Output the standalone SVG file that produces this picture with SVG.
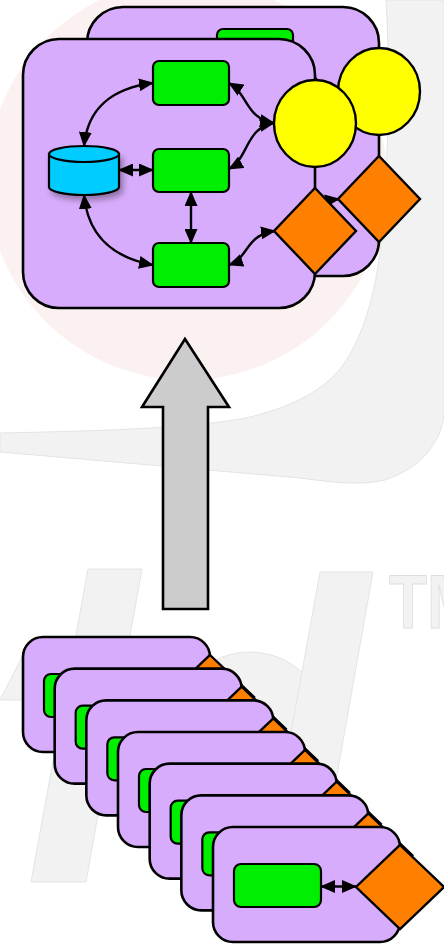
<svg xmlns="http://www.w3.org/2000/svg" width="444" height="948" viewBox="0 0 444 948">
<style>
.card{fill:#d8acfd;stroke:#000;stroke-width:2.6}
.green{fill:#00ee00;stroke:#000;stroke-width:2.2}
.yel{fill:#ffff00;stroke:#000;stroke-width:2.4}
.dia{fill:#ff7f00;stroke:#000;stroke-width:2.4}
.cyl{fill:#00ccff;stroke:#000;stroke-width:2.2}
.edge{fill:none;stroke:#000;stroke-width:2.4;marker-start:url(#ah);marker-end:url(#ah)}
.wm{fill:#f2f2f2;stroke:#e4e4e4;stroke-width:1}
.big{fill:#cccccc;stroke:#000;stroke-width:2.6;stroke-linejoin:miter}
</style>
<defs>
<marker id="ah" viewBox="0 0 15 13" refX="14" refY="6.5" markerWidth="15" markerHeight="13" markerUnits="userSpaceOnUse" orient="auto-start-reverse">
<path d="M0,0 L15,6.5 L0,13 z" fill="#000"/>
</marker>
<filter id="sh" x="-30%" y="-30%" width="170%" height="170%">
<feDropShadow dx="3" dy="4" stdDeviation="3" flood-color="#000" flood-opacity="0.35"/>
</filter>
</defs>
<rect width="444" height="948" fill="#fff"/>
<g id="watermark">
<path class="wm" d="M386,0 L444,0 L444,415 C440,445 420,468 385,480 C360,486 330,482 300,478 L0,452 L0,433 C100,431 200,428 250,417 C300,405 330,385 345,362 C360,340 375,300 380,250 C386,190 392,100 386,0 Z"/>
<circle cx="187" cy="180" r="200" fill="#fcf1f1"/>
<polygon class="wm" points="88,569 142,569 86,882 31,882"/>
<ellipse class="wm" cx="250" cy="725" rx="75" ry="73"/>
<polygon class="wm" points="320,572 373,572 318,882 264,882"/>
<polygon class="wm" points="0,700 23,655 23,700"/>
<text transform="translate(389,628) scale(0.82,1)" font-family="Liberation Sans, Arial, sans-serif" font-weight="bold" font-size="76" fill="#f2f2f2" stroke="#dedede" stroke-width="1">TM</text>
</g>
<g id="top-back" transform="translate(64,-32)">
<rect class="card" x="23" y="39" width="292" height="269" rx="36"/>
<g id="back-db"><path class="cyl" filter="url(#sh)" d="M49,154 L49,187 A35,8 0 0 0 119,187 L119,154 Z"/><ellipse class="cyl" cx="84" cy="154" rx="35" ry="8"/></g>
<rect id="back-g1" class="green" x="153" y="61" width="76" height="44" rx="6"/>
<rect id="back-g2" class="green" x="153" y="149" width="76" height="43" rx="6"/>
<rect id="back-g3" class="green" x="153" y="243" width="76" height="44" rx="6"/>
<ellipse id="back-port-c" class="yel" cx="315" cy="123.5" rx="41" ry="43.5"/>
<polygon id="back-port-d" class="dia" points="315,188 356,231 315,274 274,231"/>
<g id="back-edges">
<path class="edge" d="M84,146 C88,105 115,88 153,83"/>
<path class="edge" d="M119,170 L153,170"/>
<path class="edge" d="M84,195 C88,238 115,258 153,265"/>
<path class="edge" d="M191,192 L191,243"/>
<path class="edge" d="M229,83 C249,95 245,118 274,123"/>
<path class="edge" d="M229,169 C249,158 245,128 274,123"/>
<path class="edge" d="M229,265 C249,258 245,235 275,231"/>
</g>
</g>
<g id="top-front">
<rect class="card" x="23" y="39" width="292" height="269" rx="36"/>
<g id="front-db"><path class="cyl" filter="url(#sh)" d="M49,154 L49,187 A35,8 0 0 0 119,187 L119,154 Z"/><ellipse class="cyl" cx="84" cy="154" rx="35" ry="8"/></g>
<rect id="front-g1" class="green" x="153" y="61" width="76" height="44" rx="6"/>
<rect id="front-g2" class="green" x="153" y="149" width="76" height="43" rx="6"/>
<rect id="front-g3" class="green" x="153" y="243" width="76" height="44" rx="6"/>
<ellipse id="front-port-c" class="yel" cx="315" cy="123.5" rx="41" ry="43.5"/>
<polygon id="front-port-d" class="dia" points="315,188 356,231 315,274 274,231"/>
<g id="front-edges">
<path class="edge" d="M84,146 C88,105 115,88 153,83"/>
<path class="edge" d="M119,170 L153,170"/>
<path class="edge" d="M84,195 C88,238 115,258 153,265"/>
<path class="edge" d="M191,192 L191,243"/>
<path class="edge" d="M229,83 C249,95 245,118 274,123"/>
<path class="edge" d="M229,169 C249,158 245,128 274,123"/>
<path class="edge" d="M229,265 C249,258 245,235 275,231"/>
</g>
</g>
<g id="big-arrow">
<polygon class="big" points="185,339 229,407 208,407 208,609 163,609 163,407 142,407"/>
</g>
<g id="stack-1" transform="translate(23,637)">
<rect class="card" width="187" height="115" rx="20"/><rect class="green" x="21" y="37" width="87" height="43" rx="7"/><polygon class="dia" points="187,18 231,60 187,102 143,60"/><path class="edge" d="M108,59.5 L143,59.5"/>
</g>
<g id="stack-2" transform="translate(54.67,668.67)">
<rect class="card" width="187" height="115" rx="20"/><rect class="green" x="21" y="37" width="87" height="43" rx="7"/><polygon class="dia" points="187,18 231,60 187,102 143,60"/><path class="edge" d="M108,59.5 L143,59.5"/>
</g>
<g id="stack-3" transform="translate(86.33,700.33)">
<rect class="card" width="187" height="115" rx="20"/><rect class="green" x="21" y="37" width="87" height="43" rx="7"/><polygon class="dia" points="187,18 231,60 187,102 143,60"/><path class="edge" d="M108,59.5 L143,59.5"/>
</g>
<g id="stack-4" transform="translate(118,732)">
<rect class="card" width="187" height="115" rx="20"/><rect class="green" x="21" y="37" width="87" height="43" rx="7"/><polygon class="dia" points="187,18 231,60 187,102 143,60"/><path class="edge" d="M108,59.5 L143,59.5"/>
</g>
<g id="stack-5" transform="translate(149.67,763.67)">
<rect class="card" width="187" height="115" rx="20"/><rect class="green" x="21" y="37" width="87" height="43" rx="7"/><polygon class="dia" points="187,18 231,60 187,102 143,60"/><path class="edge" d="M108,59.5 L143,59.5"/>
</g>
<g id="stack-6" transform="translate(181.33,795.33)">
<rect class="card" width="187" height="115" rx="20"/><rect class="green" x="21" y="37" width="87" height="43" rx="7"/><polygon class="dia" points="187,18 231,60 187,102 143,60"/><path class="edge" d="M108,59.5 L143,59.5"/>
</g>
<g id="stack-7" transform="translate(213,827)">
<rect class="card" width="187" height="115" rx="20"/><rect class="green" x="21" y="37" width="87" height="43" rx="7"/><polygon class="dia" points="187,18 231,60 187,102 143,60"/><path class="edge" d="M108,59.5 L143,59.5"/>
</g>
</svg>
